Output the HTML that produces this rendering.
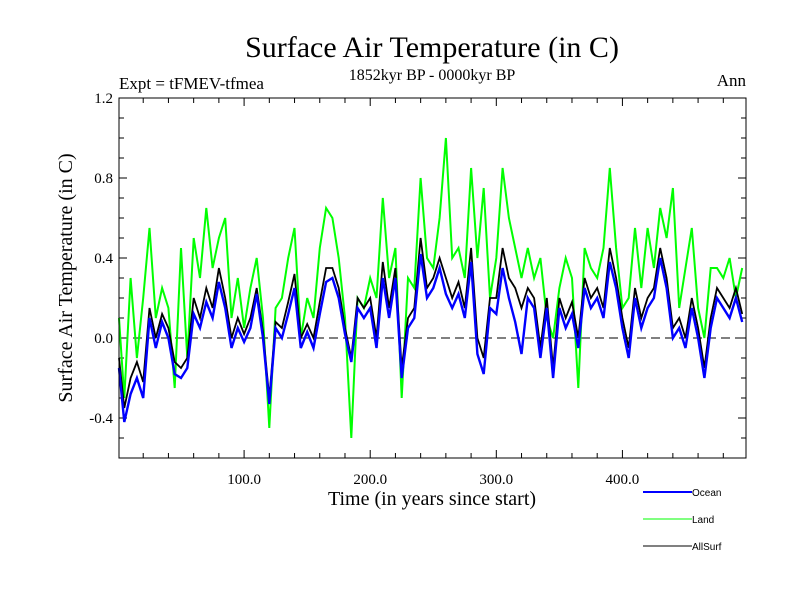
<!DOCTYPE html>
<html><head><meta charset="utf-8"><style>
body{margin:0;background:#fff}
svg{display:block;font-family:"Liberation Serif",serif}
</style></head><body>
<svg id="chart" width="800" height="600" xmlns="http://www.w3.org/2000/svg">
<text x="432" y="57" font-size="30" text-anchor="middle">Surface Air Temperature (in C)</text>
<text x="119" y="89" font-size="17">Expt = tFMEV-tfmea</text>
<text x="432" y="80" font-size="16" text-anchor="middle">1852kyr BP - 0000kyr BP</text>
<text x="746" y="86" font-size="17" text-anchor="end">Ann</text>
<text transform="translate(72,278) rotate(-90)" font-size="20" text-anchor="middle">Surface Air Temperature (in C)</text>
<text x="432" y="505" font-size="20" text-anchor="middle">Time (in years since start)</text>
<g id="ticks"></g>
<g id="series"></g>
<rect x="119" y="98" width="627" height="360" fill="none" stroke="#000" stroke-width="1"/>
<g font-family="Liberation Sans, sans-serif" font-size="10">
<line x1="643" y1="492" x2="692" y2="492" stroke="#0000ff" stroke-width="2"/>
<text x="692" y="496">Ocean</text>
<line x1="643" y1="519" x2="692" y2="519" stroke="#00ff00" stroke-width="1"/>
<text x="692" y="523">Land</text>
<line x1="643" y1="546" x2="692" y2="546" stroke="#000" stroke-width="1"/>
<text x="692" y="550">AllSurf</text>
</g>
</svg>
<script>
const years = [0,5,10,15,20,25,30,35,40,45,50,55,60,65,70,75,80,85,90,95,100,105,110,115,120,125,130,135,140,145,150,155,160,165,170,175,180,185,190,195,200,205,210,215,220,225,230,235,240,245,250,255,260,265,270,275,280,285,290,295,300,305,310,315,320,325,330,335,340,345,350,355,360,365,370,375,380,385,390,395,400,405,410,415,420,425,430,435,440,445,450,455,460,465,470,475,480,485,490,495];
const ocean = [-0.15,-0.42,-0.28,-0.2,-0.3,0.1,-0.05,0.08,0.0,-0.18,-0.2,-0.15,0.12,0.05,0.18,0.1,0.28,0.15,-0.05,0.05,-0.02,0.05,0.22,0.0,-0.33,0.05,0.0,0.12,0.25,-0.05,0.03,-0.05,0.12,0.28,0.3,0.2,0.02,-0.12,0.15,0.1,0.15,-0.05,0.3,0.1,0.3,-0.2,0.05,0.1,0.42,0.2,0.25,0.35,0.22,0.15,0.22,0.1,0.38,-0.08,-0.18,0.15,0.12,0.35,0.2,0.08,-0.08,0.2,0.15,-0.1,0.15,-0.2,0.15,0.05,0.12,-0.05,0.25,0.15,0.2,0.1,0.38,0.25,0.05,-0.1,0.2,0.05,0.15,0.2,0.4,0.25,0.0,0.05,-0.05,0.15,0.0,-0.2,0.05,0.2,0.15,0.1,0.2,0.08];
const land = [0.1,-0.3,0.3,-0.1,0.2,0.55,0.1,0.25,0.15,-0.25,0.45,-0.1,0.5,0.3,0.65,0.35,0.5,0.6,0.1,0.3,0.05,0.25,0.4,0.1,-0.45,0.15,0.2,0.4,0.55,0.0,0.2,0.1,0.45,0.65,0.6,0.4,0.1,-0.5,0.2,0.15,0.3,0.2,0.7,0.3,0.45,-0.3,0.3,0.25,0.8,0.4,0.35,0.6,1.0,0.4,0.45,0.3,0.85,0.4,0.75,0.2,0.4,0.85,0.6,0.45,0.3,0.45,0.3,0.4,0.1,0.0,0.25,0.4,0.3,-0.25,0.45,0.35,0.3,0.45,0.85,0.45,0.15,0.2,0.55,0.25,0.55,0.35,0.65,0.5,0.75,0.15,0.35,0.55,0.15,0.0,0.35,0.35,0.3,0.4,0.2,0.35];
const allsurf = [-0.1,-0.35,-0.2,-0.12,-0.22,0.15,0.0,0.12,0.05,-0.12,-0.15,-0.1,0.2,0.1,0.25,0.15,0.35,0.2,0.0,0.1,0.02,0.1,0.25,0.03,-0.3,0.08,0.05,0.18,0.32,0.0,0.07,0.0,0.18,0.35,0.35,0.25,0.05,-0.1,0.2,0.15,0.2,0.0,0.38,0.15,0.35,-0.15,0.1,0.15,0.5,0.25,0.3,0.4,0.3,0.2,0.28,0.15,0.45,0.0,-0.1,0.2,0.2,0.45,0.3,0.25,0.15,0.25,0.2,-0.05,0.2,-0.15,0.2,0.1,0.18,0.0,0.3,0.2,0.25,0.15,0.45,0.3,0.1,-0.05,0.25,0.1,0.2,0.25,0.45,0.3,0.05,0.1,0.0,0.2,0.05,-0.15,0.1,0.25,0.2,0.15,0.25,0.12];
const yTickValues = [-0.4,0.0,0.4,0.8,1.2];
const yTickLabels = ["-0.4","0.0","0.4","0.8","1.2"];
const xTickValues = [100,200,300,400];
const xTickLabels = ["100.0","200.0","300.0","400.0"];

const NS="http://www.w3.org/2000/svg";
const X0=119,X1=746,Y0=98,Y1=458;
const TMIN=0.8,TMAX=498;
const VMIN=-0.6,VMAX=1.2;
function xs(t){return X0+(t-TMIN)/(TMAX-TMIN)*(X1-X0);}
function ys(v){return Y1-(v-VMIN)/(VMAX-VMIN)*(Y1-Y0);}
function mk(tag,attrs,parent){const e=document.createElementNS(NS,tag);for(const k in attrs)e.setAttribute(k,attrs[k]);parent.appendChild(e);return e;}
const tg=document.getElementById('ticks');
for(let v=-0.6;v<=1.2001;v+=0.1){
  const major=Math.abs(Math.round(v*10)%4)===0&&Math.abs(v*10-Math.round(v*10))<1e-6;
  const L=major?8:5;
  const a=mk('line',{x1:X0,x2:X0+L,y1:ys(v),y2:ys(v),stroke:'#000'},tg);
  
  
  const b=mk('line',{x1:X1,x2:X1-L,y1:ys(v),y2:ys(v),stroke:'#000'},tg);
  
  
}
for(let t=20;t<TMAX;t+=20){
  const L=(t%100===0)?8:5;
  const a=mk('line',{x1:xs(t),x2:xs(t),y1:Y1,y2:Y1-L,stroke:'#000'},tg);
  
  
  const b=mk('line',{x1:xs(t),x2:xs(t),y1:Y0,y2:Y0+L,stroke:'#000'},tg);
  
  
}
yTickValues.forEach((v,i)=>{
  const e=mk('text',{x:X0-6,y:ys(v)+5,'font-size':15,'text-anchor':'end'},tg);
  e.textContent=yTickLabels[i];
  
  
});
xTickValues.forEach((v,i)=>{
  const e=mk('text',{x:xs(v),y:484,'font-size':15,'text-anchor':'middle'},tg);
  e.textContent=xTickLabels[i];
  
  
});
const sg=document.getElementById('series');
const zl=mk('line',{x1:X0,x2:X1,y1:ys(0),y2:ys(0),stroke:'#000','stroke-dasharray':'9,5','stroke-width':1},sg);


function path(vals){return vals.map((v,i)=>(i?'L':'M')+xs(Math.max(years[i],TMIN)).toFixed(1)+','+ys(v).toFixed(1)).join('');}
const pl=mk('path',{d:path(land),fill:'none',stroke:'#00ff00','stroke-width':2},sg);


const pa=mk('path',{d:path(allsurf),fill:'none',stroke:'#000','stroke-width':1.8},sg);


const po=mk('path',{d:path(ocean),fill:'none',stroke:'#0000ff','stroke-width':2.4},sg);


</script>
</body></html>
